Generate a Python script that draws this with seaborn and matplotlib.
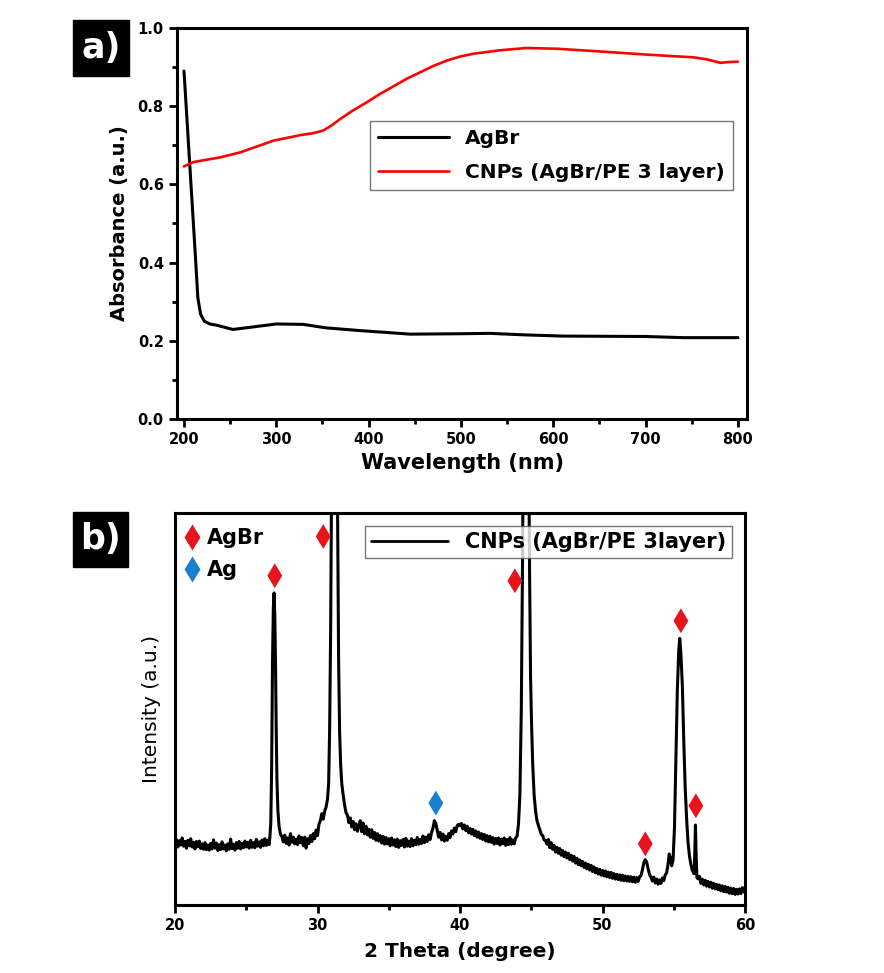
import matplotlib
matplotlib.use("Agg")
import matplotlib.pyplot as plt
from matplotlib.lines import Line2D
from matplotlib.patches import Rectangle
from matplotlib.ticker import MultipleLocator, FormatStrFormatter
import seaborn as sns

# ---- panel a: UV-vis absorbance ----
agbr_wl = [200, 203, 206, 209, 212, 215, 218, 222, 228, 235, 253, 270, 300,
           329, 354, 391, 445, 499, 531, 570, 611, 700, 741, 800]
agbr_abs = [0.890, 0.775, 0.660, 0.545, 0.430, 0.310, 0.268, 0.250, 0.243,
            0.240, 0.229, 0.234, 0.243, 0.242, 0.233, 0.226, 0.217, 0.218,
            0.219, 0.215, 0.212, 0.211, 0.208, 0.208]

cnp_wl = [200, 210, 217, 239, 261, 297, 326, 340, 351, 360, 369, 383, 398,
          412, 427, 441, 456, 470, 485, 499, 513, 542, 571, 604, 651, 701,
          752, 766, 781, 790, 800]
cnp_abs = [0.646, 0.657, 0.660, 0.669, 0.682, 0.712, 0.726, 0.731, 0.738,
           0.751, 0.767, 0.789, 0.810, 0.831, 0.851, 0.870, 0.887, 0.903,
           0.917, 0.927, 0.934, 0.943, 0.949, 0.947, 0.940, 0.932, 0.925,
           0.920, 0.911, 0.913, 0.914]

# ---- panel b: XRD pattern ----
theta = [
    20.0, 20.1, 20.2, 20.3, 20.4, 20.5, 20.6, 20.7, 20.8, 20.9,
    21.0, 21.1, 21.2, 21.3, 21.4, 21.5, 21.6, 21.7, 21.8, 21.9,
    22.0, 22.1, 22.2, 22.3, 22.4, 22.5, 22.6, 22.7, 22.8, 22.9,
    23.0, 23.1, 23.2, 23.3, 23.4, 23.5, 23.6, 23.7, 23.8, 23.9,
    24.0, 24.1, 24.2, 24.3, 24.4, 24.5, 24.6, 24.7, 24.8, 24.9,
    25.0, 25.1, 25.2, 25.3, 25.4, 25.5, 25.6, 25.7, 25.8, 25.9,
    26.0, 26.1, 26.2, 26.3, 26.4, 26.5, 26.6, 26.65, 26.72, 26.78,
    26.84, 26.90, 26.95, 27.00, 27.05, 27.10, 27.15, 27.22, 27.30, 27.40,
    27.5, 27.6, 27.7, 27.8, 27.9, 28.0, 28.1, 28.2, 28.3, 28.4,
    28.5, 28.6, 28.7, 28.8, 28.9, 29.0, 29.1, 29.2, 29.3, 29.4,
    29.5, 29.6, 29.7, 29.8, 29.9, 30.0, 30.1, 30.2, 30.3, 30.4,
    30.5, 30.6, 30.7, 30.78, 30.85, 30.92, 30.98, 31.05, 31.15, 31.25,
    31.35, 31.42, 31.48, 31.55, 31.62, 31.7, 31.8, 31.9, 32.0, 32.1,
    32.2, 32.3, 32.4, 32.5, 32.6, 32.7, 32.8, 32.9, 33.0, 33.1,
    33.2, 33.3, 33.4, 33.5, 33.6, 33.7, 33.8, 33.9, 34.0, 34.1,
    34.2, 34.3, 34.4, 34.5, 34.6, 34.7, 34.8, 34.9, 35.0, 35.1,
    35.2, 35.3, 35.4, 35.5, 35.6, 35.7, 35.8, 35.9, 36.0, 36.1,
    36.2, 36.3, 36.4, 36.5, 36.6, 36.7, 36.8, 36.9, 37.0, 37.1,
    37.2, 37.3, 37.4, 37.5, 37.6, 37.7, 37.8, 37.9, 38.0, 38.1,
    38.2, 38.3, 38.4, 38.5, 38.6, 38.7, 38.8, 38.9, 39.0, 39.1,
    39.2, 39.3, 39.4, 39.5, 39.6, 39.7, 39.8, 39.9, 40.0, 40.1,
    40.2, 40.3, 40.4, 40.5, 40.6, 40.7, 40.8, 40.9, 41.0, 41.1,
    41.2, 41.3, 41.4, 41.5, 41.6, 41.7, 41.8, 41.9, 42.0, 42.1,
    42.2, 42.3, 42.4, 42.5, 42.6, 42.7, 42.8, 42.9, 43.0, 43.1,
    43.2, 43.3, 43.4, 43.5, 43.6, 43.7, 43.8, 43.9, 44.0, 44.1,
    44.2, 44.3, 44.38, 44.45, 44.55, 44.7, 44.8, 44.88, 44.95, 45.02,
    45.1, 45.2, 45.3, 45.4, 45.5, 45.6, 45.7, 45.8, 45.9, 46.0,
    46.1, 46.2, 46.3, 46.4, 46.5, 46.6, 46.7, 46.8, 46.9, 47.0,
    47.1, 47.2, 47.3, 47.4, 47.5, 47.6, 47.7, 47.8, 47.9, 48.0,
    48.1, 48.2, 48.3, 48.4, 48.5, 48.6, 48.7, 48.8, 48.9, 49.0,
    49.1, 49.2, 49.3, 49.4, 49.5, 49.6, 49.7, 49.8, 49.9, 50.0,
    50.1, 50.2, 50.3, 50.4, 50.5, 50.6, 50.7, 50.8, 50.9, 51.0,
    51.1, 51.2, 51.3, 51.4, 51.5, 51.6, 51.7, 51.8, 51.9, 52.0,
    52.1, 52.2, 52.3, 52.4, 52.5, 52.6, 52.7, 52.8, 52.9, 53.0,
    53.1, 53.2, 53.3, 53.4, 53.5, 53.6, 53.7, 53.8, 53.9, 54.0,
    54.1, 54.2, 54.3, 54.4, 54.5, 54.6, 54.68, 54.75, 54.85, 54.95,
    55.05, 55.15, 55.25, 55.35, 55.42, 55.5, 55.6, 55.7, 55.8, 55.9,
    56.0, 56.1, 56.2, 56.3, 56.42, 56.48, 56.52, 56.56, 56.62, 56.7,
    56.8, 56.9, 57.0, 57.1, 57.2, 57.3, 57.4, 57.5, 57.6, 57.7,
    57.8, 57.9, 58.0, 58.1, 58.2, 58.3, 58.4, 58.5, 58.6, 58.7,
    58.8, 58.9, 59.0, 59.1, 59.2, 59.3, 59.4, 59.5, 59.6, 59.7,
    59.8, 59.9, 60.0,
]
intensity = [
    15.0, 16.7, 14.8, 16.4, 15.3, 17.1, 15.0, 16.2, 14.5, 16.5,
    15.1, 16.9, 14.8, 16.0, 14.3, 16.2, 14.9, 16.3, 14.4, 15.6,
    14.2, 15.9, 14.1, 15.3, 14.0, 15.7, 14.3, 16.6, 14.5, 15.8,
    13.9, 15.4, 14.1, 16.1, 14.3, 15.3, 13.8, 15.6, 14.2, 16.8,
    14.4, 15.5, 14.0, 15.9, 14.5, 16.2, 14.3, 15.7, 14.6, 16.3,
    14.8, 16.0, 14.5, 16.5, 14.7, 15.9, 14.6, 16.7, 15.0, 16.1,
    14.7, 16.6, 15.1, 16.9, 15.2, 16.5, 15.4, 17.0, 21.0, 35.0,
    62.0, 76.0, 79.6, 74.0, 62.0, 45.0, 32.0, 24.0, 20.0, 18.0,
    17.5, 16.1, 17.8, 15.7, 17.1, 15.3, 18.2, 16.0, 17.3, 15.6,
    16.8, 15.4, 17.6, 15.9, 17.2, 15.1, 17.3, 14.5, 16.9, 15.7,
    17.7, 16.2, 18.2, 16.9, 19.1, 17.7, 20.6, 21.5, 23.3, 21.9,
    23.9, 25.0, 27.0, 31.0, 45.0, 70.0, 105.0, 135.0, 150.0, 150.0,
    130.0, 95.0, 62.0, 44.0, 36.0, 31.0, 28.0, 25.5, 23.5, 22.9,
    21.0, 22.2, 19.9, 21.3, 19.2, 20.7, 18.8, 20.3, 21.5, 18.7,
    20.9, 18.2, 20.1, 17.9, 19.3, 17.3, 19.2, 17.0, 18.5, 16.5,
    18.2, 16.3, 17.7, 15.8, 17.5, 15.5, 17.2, 15.6, 16.9, 15.1,
    17.1, 15.3, 16.6, 14.9, 16.8, 14.7, 16.4, 15.2, 16.7, 14.8,
    17.0, 15.0, 16.3, 14.9, 16.9, 15.1, 16.5, 15.4, 17.2, 15.5,
    16.7, 15.7, 17.6, 15.9, 17.3, 16.2, 17.9, 16.7, 18.5, 19.6,
    21.5, 20.8, 19.0, 17.3, 18.5, 16.6, 18.1, 16.3, 17.5, 16.5,
    18.2, 17.2, 18.9, 18.1, 19.6, 18.7, 20.2, 20.6, 20.2, 20.8,
    19.4, 20.4, 19.0, 20.1, 18.4, 19.5, 18.1, 19.3, 17.7, 18.9,
    17.3, 18.6, 17.0, 18.2, 16.7, 18.0, 16.3, 17.7, 16.1, 17.5,
    16.0, 17.2, 15.5, 17.0, 15.7, 17.1, 15.3, 16.8, 15.6, 17.1,
    15.2, 16.7, 15.4, 17.2, 15.5, 16.6, 15.6, 17.1, 17.5, 20.5,
    28.0, 50.0, 85.0, 125.0, 150.0, 150.0, 125.0, 85.0, 58.0, 46.0,
    36.0, 28.0, 24.0, 21.5, 20.3, 19.2, 18.0, 17.7, 16.6, 16.5,
    15.5, 16.7, 14.6, 15.9, 14.2, 15.2, 13.5, 14.7, 13.2, 14.4,
    12.7, 13.9, 12.3, 13.5, 12.0, 13.2, 11.6, 12.7, 11.2, 12.4,
    10.7, 11.9, 10.3, 11.5, 10.0, 11.1, 9.6, 10.7, 9.2, 10.4,
    8.9, 10.1, 8.5, 9.7, 8.2, 9.3, 7.9, 9.1, 7.6, 8.8,
    7.4, 8.7, 7.2, 8.4, 7.0, 8.3, 6.8, 8.0, 6.6, 7.8,
    6.5, 7.7, 6.3, 7.6, 6.2, 7.4, 6.1, 7.3, 6.0, 7.2,
    5.9, 7.1, 5.8, 7.0, 6.0, 7.2, 7.5, 9.0, 10.8, 11.6,
    10.9, 9.2, 7.8, 7.1, 6.1, 7.1, 5.6, 6.6, 5.3, 6.4,
    5.5, 6.9, 6.2, 7.7, 8.2, 10.5, 13.0, 12.2, 10.0, 11.5,
    20.0, 38.0, 55.0, 65.0, 68.0, 64.0, 56.0, 42.0, 30.0, 22.0,
    16.0, 12.5, 10.3, 8.8, 8.0, 14.0, 20.4, 14.0, 7.0, 6.7,
    7.3, 5.5, 6.6, 5.1, 6.3, 4.8, 6.0, 4.6, 5.8, 4.3,
    5.5, 4.1, 5.3, 3.9, 5.1, 3.6, 4.9, 3.4, 4.7, 3.3,
    4.5, 3.0, 4.3, 2.9, 4.2, 2.7, 4.0, 2.8, 4.1, 2.9,
    4.4, 3.3, 4.6,
]

# peak markers
agbr_peak_theta = [27.0, 30.4, 43.85, 53.0, 55.5, 56.55]
agbr_peak_mark = [84.0, 94.0, 82.7, 15.6, 72.5, 25.3]
ag_peak_theta = [38.3]
ag_peak_mark = [26.0]

RED = "#e8141c"
BLUE = "#1b7fd0"

sns.set_style("ticks")
plt.rcParams["font.family"] = ["DejaVu Sans"]
plt.rcParams.update({"text.color": "black", "axes.labelcolor": "black",
                     "axes.edgecolor": "black", "xtick.color": "black",
                     "ytick.color": "black"})

fig = plt.figure(figsize=(8.84, 9.73), dpi=100)
ax_a = fig.add_axes([0.2002, 0.5694, 0.645, 0.4018])
ax_b = fig.add_axes([0.198, 0.0699, 0.6448, 0.4029])

# panel a
sns.lineplot(x=agbr_wl, y=agbr_abs, ax=ax_a, color="black", lw=2.2,
             estimator=None, sort=False, label="AgBr")
sns.lineplot(x=cnp_wl, y=cnp_abs, ax=ax_a, color="#ff0000", lw=1.9,
             estimator=None, sort=False, label="CNPs (AgBr/PE 3 layer)")
ax_a.set_xlim(192.4, 810)
ax_a.set_ylim(0, 1.0)
ax_a.xaxis.set_major_locator(MultipleLocator(100))
ax_a.xaxis.set_minor_locator(MultipleLocator(50))
ax_a.yaxis.set_major_locator(MultipleLocator(0.2))
ax_a.yaxis.set_minor_locator(MultipleLocator(0.1))
ax_a.yaxis.set_major_formatter(FormatStrFormatter("%.1f"))
ax_a.set_xlabel("Wavelength (nm)", fontsize=15, fontweight="bold", labelpad=4)
ax_a.set_ylabel("Absorbance (a.u.)", fontsize=14, fontweight="bold", labelpad=6)
leg_a = ax_a.legend(loc="upper left", bbox_to_anchor=(0.339, 0.762),
                    borderaxespad=0, frameon=True, fancybox=False,
                    edgecolor="#555555", handlelength=3.5,
                    prop={"weight": "bold", "size": 14.5}, labelspacing=0.75)
leg_a.get_frame().set_linewidth(1.0)

# panel b
sns.lineplot(x=theta, y=intensity, ax=ax_b, color="black", lw=2.2,
             estimator=None, sort=False, label="CNPs (AgBr/PE 3layer)")
sns.scatterplot(x=agbr_peak_theta, y=agbr_peak_mark, ax=ax_b, marker="d",
                s=160, color=RED, edgecolor="none", zorder=5)
sns.scatterplot(x=ag_peak_theta, y=ag_peak_mark, ax=ax_b, marker="d",
                s=160, color=BLUE, edgecolor="none", zorder=5)
ax_b.set_xlim(20, 60)
ax_b.set_ylim(0, 100)
ax_b.set_yticks([])
ax_b.xaxis.set_major_locator(MultipleLocator(10))
ax_b.xaxis.set_minor_locator(MultipleLocator(5))
ax_b.set_xlabel("2 Theta (degree)", fontsize=14.5, fontweight="bold", labelpad=6)
ax_b.set_ylabel("Intensity (a.u.)", fontsize=14.5, fontweight="medium",
                labelpad=10)
leg_b = ax_b.legend(handles=[Line2D([], [], color="black", lw=2.0)],
                    labels=["CNPs (AgBr/PE 3layer)"], loc="upper left",
                    bbox_to_anchor=(0.333, 0.967), borderaxespad=0,
                    frameon=True, fancybox=False, edgecolor="#555555",
                    handlelength=3.7, borderpad=0.3,
                    prop={"weight": "bold", "size": 15})
leg_b.get_frame().set_linewidth(1.0)
ax_b.add_artist(leg_b)
ax_b.legend(handles=[Line2D([], [], marker="d", ls="none", color=RED, ms=13, mec="none"),
                     Line2D([], [], marker="d", ls="none", color=BLUE, ms=13, mec="none")],
            labels=["AgBr", "Ag"], loc="upper left", bbox_to_anchor=(-0.018, 1.01),
            frameon=False, handlelength=0.8, handletextpad=0.3, labelspacing=0.6,
            prop={"weight": "bold", "size": 15})

for ax in (ax_a, ax_b):
    for sp in ax.spines.values():
        sp.set_linewidth(2.2)
        sp.set_visible(True)
    ax.tick_params(which="major", direction="out", length=6, width=2,
                   labelsize=10.5)
    ax.tick_params(which="minor", direction="out", length=3.5, width=2)
    for lbl in ax.get_xticklabels() + ax.get_yticklabels():
        lbl.set_fontweight("bold")

# panel letters
for (x0, y0, w, h), letter in [((0.0826, 0.9219, 0.0633, 0.0575), "a)"),
                               ((0.0826, 0.4173, 0.0622, 0.0565), "b)")]:
    fig.add_artist(Rectangle((x0, y0), w, h, transform=fig.transFigure,
                             color="black"))
    fig.text(x0 + w / 2, y0 + h / 2, letter, color="white", fontsize=25,
             fontweight="bold", ha="center", va="center")

fig.savefig("out.png", dpi=100)
